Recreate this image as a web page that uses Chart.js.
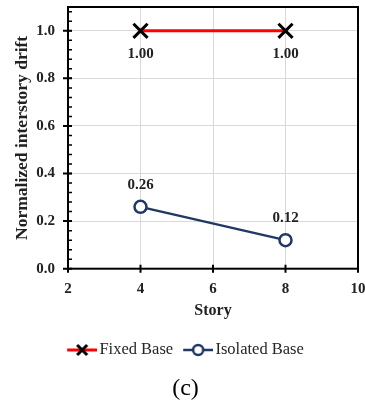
<!DOCTYPE html>
<html>
<head>
<meta charset="utf-8">
<script src="https://cdn.jsdelivr.net/npm/chart.js@4/dist/chart.umd.min.js"></script>
<style>
    html, body { margin: 0; padding: 0; background: #fff; overflow: hidden; }
</style>
</head>
<body>
<canvas id="chart" width="365" height="403"></canvas>
<script>
var stories = [4, 8];
var fixedBase = [1.00, 1.00];
var isolatedBase = [0.26, 0.12];
var xTicks = [2, 4, 6, 8, 10];
var yTicks = [0.0, 0.2, 0.4, 0.6, 0.8, 1.0];

var serif = "'Liberation Serif', 'Times New Roman', serif";
var navy = '#203864';

// legend swatch: a short line with the marker on it
function swatch(kind) {
    var c = document.createElement('canvas');
    c.width = 36;
    c.height = 16;
    var g = c.getContext('2d');
    g.lineWidth = kind === 'fixed' ? 3 : 2.5;
    g.strokeStyle = kind === 'fixed' ? '#ff0000' : navy;
    g.beginPath();
    g.moveTo(6, 8);
    g.lineTo(36, 8);
    g.stroke();
    if (kind === 'fixed') {
        g.strokeStyle = '#000';
        g.lineWidth = 3;
        g.beginPath();
        g.moveTo(16, 3); g.lineTo(26, 13);
        g.moveTo(26, 3); g.lineTo(16, 13);
        g.stroke();
    } else {
        g.fillStyle = '#fff';
        g.strokeStyle = navy;
        g.lineWidth = 2.5;
        g.beginPath();
        g.arc(21, 8, 5, 0, Math.PI * 2);
        g.fill();
        g.stroke();
    }
    return c;
}
var swatches = [swatch('fixed'), swatch('isolated')];

function points(ys) {
    return stories.map(function (x, i) { return { x: x, y: ys[i] }; });
}

var valueLabels = {
    id: 'valueLabels',
    afterDatasetsDraw: function (chart) {
        var ctx = chart.ctx;
        ctx.save();
        ctx.font = 'bold 15px ' + serif;
        ctx.fillStyle = '#222';
        ctx.textAlign = 'center';
        ctx.textBaseline = 'middle';
        chart.data.datasets.forEach(function (ds, di) {
            var off = di === 0 ? 23 : -22;
            chart.getDatasetMeta(di).data.forEach(function (pt, i) {
                ctx.fillText(ds.data[i].y.toFixed(2), pt.x, pt.y + off);
            });
        });
        ctx.restore();
    }
};

var frame = {
    id: 'frame',
    afterDraw: function (chart) {
        var ctx = chart.ctx;
        var a = chart.chartArea;
        var xs = chart.scales.x, ys = chart.scales.y;
        ctx.save();
        ctx.strokeStyle = '#000';
        ctx.lineWidth = 2;
        ctx.strokeRect(a.left, a.top, a.right - a.left, a.bottom - a.top);
        ctx.beginPath();
        xTicks.forEach(function (v) {
            var px = xs.getPixelForValue(v);
            ctx.moveTo(px, a.bottom - 4);
            ctx.lineTo(px, a.bottom + 4);
        });
        yTicks.forEach(function (v) {
            var py = ys.getPixelForValue(v);
            ctx.moveTo(a.left - 5, py);
            ctx.lineTo(a.left + 4, py);
        });
        ctx.stroke();
        ctx.lineWidth = 1.5;
        ctx.beginPath();
        for (var m = 0.04; m < 1.1; m += 0.04) {
            var py = ys.getPixelForValue(m);
            ctx.moveTo(a.left, py);
            ctx.lineTo(a.left + 4, py);
        }
        ctx.stroke();
        ctx.restore();
    }
};

new Chart(document.getElementById('chart'), {
    type: 'line',
    data: {
        datasets: [{
            label: 'Fixed Base',
            data: points(fixedBase),
            borderColor: '#ff0000',
            borderWidth: 3,
            pointStyle: 'crossRot',
            pointRadius: 10,
            pointBorderWidth: 3,
            pointBorderColor: '#000',
            pointBackgroundColor: '#000'
        }, {
            label: 'Isolated Base',
            data: points(isolatedBase),
            borderColor: navy,
            borderWidth: 2.5,
            pointStyle: 'circle',
            pointRadius: 6,
            pointBorderWidth: 2.5,
            pointBorderColor: navy,
            pointBackgroundColor: '#fff'
        }]
    },
    options: {
        responsive: false,
        animation: false,
        layout: { autoPadding: false, padding: { left: 6, right: 0, top: 0, bottom: 0 } },
        scales: {
            x: {
                type: 'linear',
                min: 2,
                max: 10,
                afterBuildTicks: function (s) { s.ticks = xTicks.map(function (v) { return { value: v }; }); },
                afterFit: function (s) { s.height = 63; s.paddingRight = 7; s.paddingLeft = 4; },
                grid: { color: '#d9d9d9', drawTicks: false },
                border: { display: false },
                ticks: {
                    padding: 11,
                    color: '#222',
                    font: { family: serif, size: 15, weight: 'bold' }
                },
                title: {
                    display: true,
                    text: 'Story',
                    color: '#222',
                    padding: { top: 0, bottom: 11 },
                    font: { family: serif, size: 16, weight: 'bold' }
                }
            },
            y: {
                min: 0,
                max: 1.1,
                afterBuildTicks: function (s) { s.ticks = yTicks.map(function (v) { return { value: v }; }); },
                afterFit: function (s) { s.width = 62; s.paddingTop = 7; s.paddingBottom = 7; },
                grid: { color: '#d9d9d9', drawTicks: false },
                border: { display: false },
                ticks: {
                    padding: 13,
                    color: '#222',
                    callback: function (v) { return v.toFixed(1); },
                    font: { family: serif, size: 15, weight: 'bold' }
                },
                title: {
                    display: true,
                    text: 'Normalized interstory drift',
                    color: '#222',
                    padding: 6,
                    font: { family: serif, size: 17.5, weight: 'bold' }
                }
            }
        },
        plugins: {
            legend: {
                position: 'bottom',
                labels: {
                    usePointStyle: true,
                    pointStyleWidth: 24,
                    padding: 10,
                    color: '#262626',
                    font: { family: serif, size: 16.5 },
                    generateLabels: function (chart) {
                        var items = Chart.defaults.plugins.legend.labels.generateLabels(chart);
                        items.forEach(function (it, i) { it.pointStyle = swatches[i]; });
                        return items;
                    }
                }
            },
            title: {
                display: true,
                position: 'bottom',
                text: '(c)',
                color: '#000',
                padding: { top: 6, bottom: 0 },
                font: { family: serif, size: 24, weight: 'normal' }
            },
            tooltip: { enabled: false }
        }
    },
    plugins: [valueLabels, frame]
});
</script>
</body>
</html>
